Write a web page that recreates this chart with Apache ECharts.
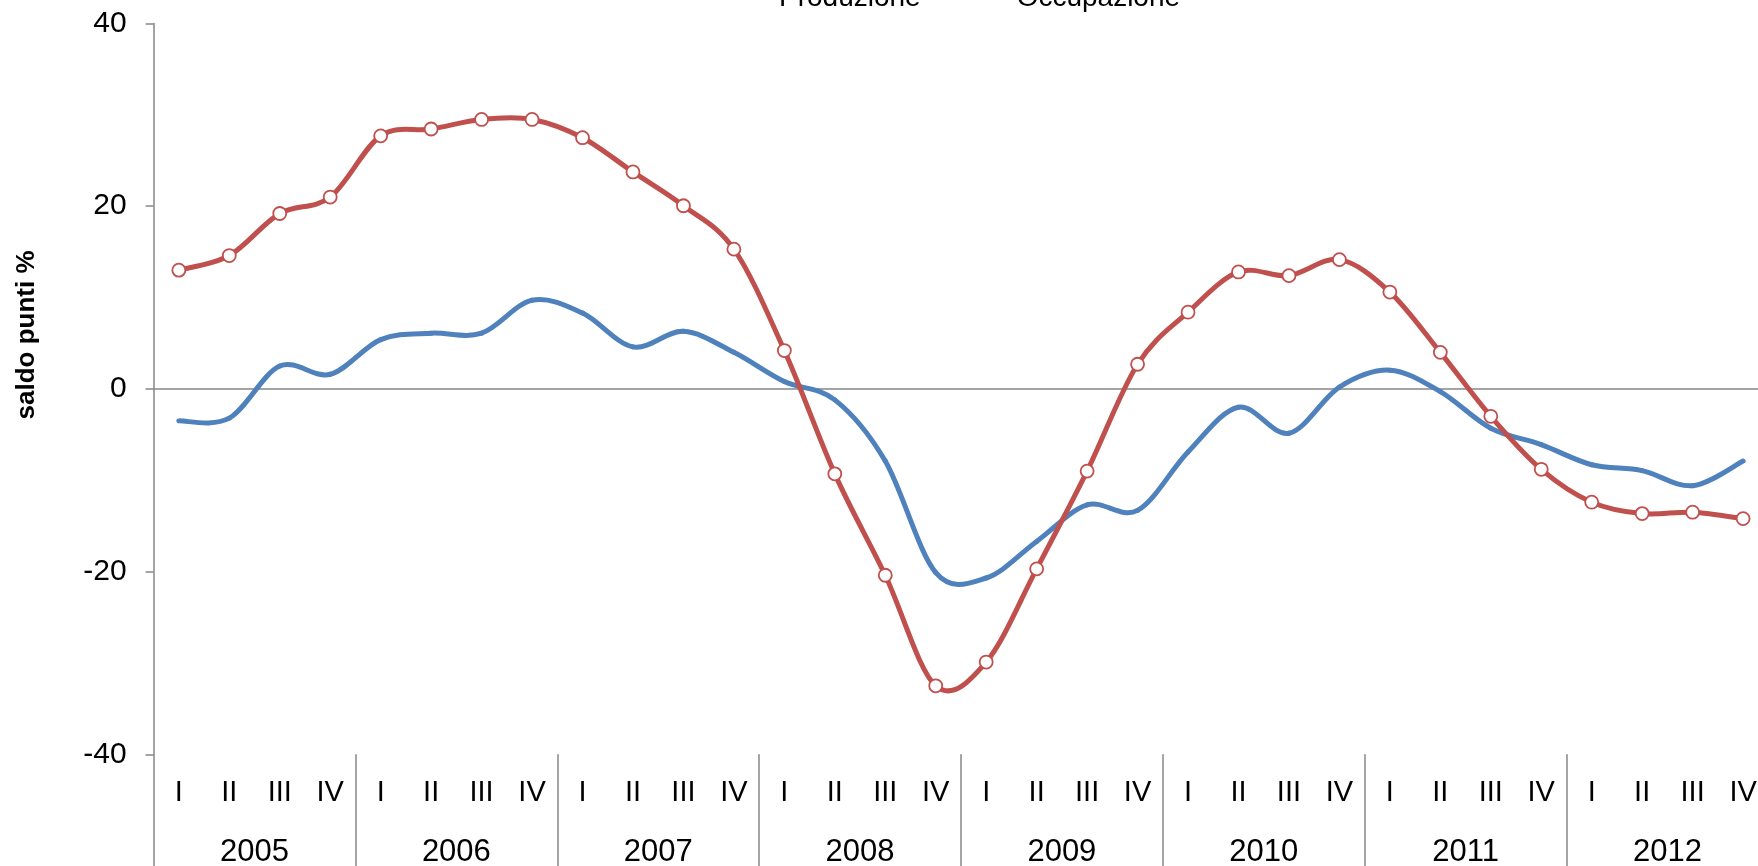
<!DOCTYPE html>
<html>
<head>
<meta charset="utf-8">
<script src="https://cdn.jsdelivr.net/npm/echarts@6/dist/echarts.min.js"></script>
<style>
html,body{margin:0;padding:0;background:#fff;}
#c{width:1758px;height:866px;}
</style>
</head>
<body>
<div id="c"></div>
<script>
const years = ['2005','2006','2007','2008','2009','2010','2011','2012'];
const quarters = ['I','II','III','IV'];
const yTicks = {min: -40, max: 40, interval: 20};
const seriesNames = ['Produzione', 'Occupazione'];
const produzione = [
  -3.5, -3.2, 2.5, 1.6,
  5.4, 6.1, 6.1, 9.7,
  8.3, 4.6, 6.3, 4.0,
  0.8, -1.2, -7.9, -20.1,
  -20.7, -16.7, -12.7, -13.3,
  -6.9, -2.0, -4.85, 0.2,
  2.05, -0.3, -4.3, -6.1,
  -8.3, -8.95, -10.6, -7.9
];
const occupazione = [
  13.0, 14.6, 19.2, 21.0,
  27.7, 28.45, 29.5, 29.5,
  27.5, 23.75, 20.05, 15.3,
  4.2, -9.3, -20.4, -32.5,
  -29.9, -19.7, -9.0, 2.7,
  8.4, 12.8, 12.4, 14.15,
  10.6, 4.0, -3.0, -8.8,
  -12.4, -13.65, -13.5, -14.2
];
const yName = 'saldo punti %';

const quarterLabels = [];
years.forEach(() => quarters.forEach(q => quarterLabels.push(q)));

const gray = '#868686';
const font = 'Liberation Sans';
const blue = '#4F81BD', red = '#C0504D';

// Smoothed line (Excel-like Catmull-Rom bezier), positioned through the axes via api.coord
function smoothSeries(name, values, color, markers, z) {
  const n = values.length;
  return {
    name: name, type: 'custom', xAxisIndex: 0, yAxisIndex: 0, z: z,
    data: values.map((v, i) => [i, v]),
    encode: {x: 0, y: 1},
    itemStyle: {color: color},
    renderItem: function (params, api) {
      const i = params.dataIndex;
      const pt = j => {
        const k = Math.max(0, Math.min(n - 1, j));
        return api.coord([k, values[k]]);
      };
      const children = [];
      const p1 = pt(i);
      if (i < n - 1) {
        const p0 = pt(i - 1), p2 = pt(i + 1), p3 = pt(i + 2);
        children.push({
          type: 'bezierCurve',
          shape: {
            x1: p1[0], y1: p1[1], x2: p2[0], y2: p2[1],
            cpx1: p1[0] + (p2[0] - p0[0]) / 6, cpy1: p1[1] + (p2[1] - p0[1]) / 6,
            cpx2: p2[0] - (p3[0] - p1[0]) / 6, cpy2: p2[1] - (p3[1] - p1[1]) / 6
          },
          style: {stroke: color, lineWidth: 5, fill: 'none', lineCap: 'round'}
        });
      }
      if (markers) {
        children.push({
          type: 'circle', z2: 10,
          shape: {cx: p1[0], cy: p1[1], r: 6.5},
          style: {fill: '#ffffff', stroke: color, lineWidth: 1.8}
        });
      }
      return {type: 'group', children: children};
    }
  };
}

const chart = echarts.init(document.getElementById('c'), null, {renderer: 'canvas'});
const gridLeft = 153.6, gridTop = 23.5, band = 50.46;
chart.setOption({
  animation: false,
  textStyle: {fontFamily: font, color: '#000'},
  legend: {
    data: seriesNames,
    left: 724, top: -16, padding: 0,
    itemGap: 41, itemWidth: 50, itemHeight: 4,
    itemStyle: {opacity: 0},
    textStyle: {fontSize: 28, color: '#000', fontFamily: font}
  },
  grid: {
    left: gridLeft, top: gridTop, width: band * quarterLabels.length, height: 730.8,
    containLabel: false, outerBoundsMode: 'none'
  },
  xAxis: [
    {
      type: 'category', data: quarterLabels, position: 'bottom', boundaryGap: true,
      axisLine: {show: false, onZero: false}, axisTick: {show: false},
      axisLabel: {interval: 0, margin: 24.5, fontSize: 29, color: '#000', fontFamily: font},
      splitLine: {show: false}
    },
    {
      type: 'category', data: years, position: 'bottom', boundaryGap: true,
      axisLine: {show: false, onZero: false},
      axisTick: {show: true, interval: 0, length: 112, lineStyle: {color: gray, width: 1.5}},
      axisLabel: {interval: 0, margin: 82.5, fontSize: 31, color: '#000', fontFamily: font},
      splitLine: {show: false}
    },
    {
      type: 'category', data: quarterLabels, position: 'bottom', boundaryGap: true,
      axisLine: {show: true, onZero: true, lineStyle: {color: gray, width: 1.5}},
      axisTick: {show: false}, axisLabel: {show: false}, splitLine: {show: false}
    }
  ],
  yAxis: {
    type: 'value', min: yTicks.min, max: yTicks.max, interval: yTicks.interval,
    axisLine: {show: true, lineStyle: {color: gray, width: 1.5}},
    axisTick: {show: true, length: 8, inside: false, lineStyle: {color: gray, width: 1.5}},
    axisLabel: {margin: 27, fontSize: 30, color: '#000', fontFamily: font},
    splitLine: {show: false}
  },
  graphic: [{
    type: 'text', x: 27, y: 335, rotation: Math.PI / 2,
    style: {text: yName, font: 'bold 26px "Liberation Sans"', fill: '#000', align: 'center', verticalAlign: 'middle'}
  }],
  series: [
    smoothSeries(seriesNames[0], produzione, blue, false, 2),
    smoothSeries(seriesNames[1], occupazione, red, true, 3)
  ]
});
</script>
</body>
</html>
